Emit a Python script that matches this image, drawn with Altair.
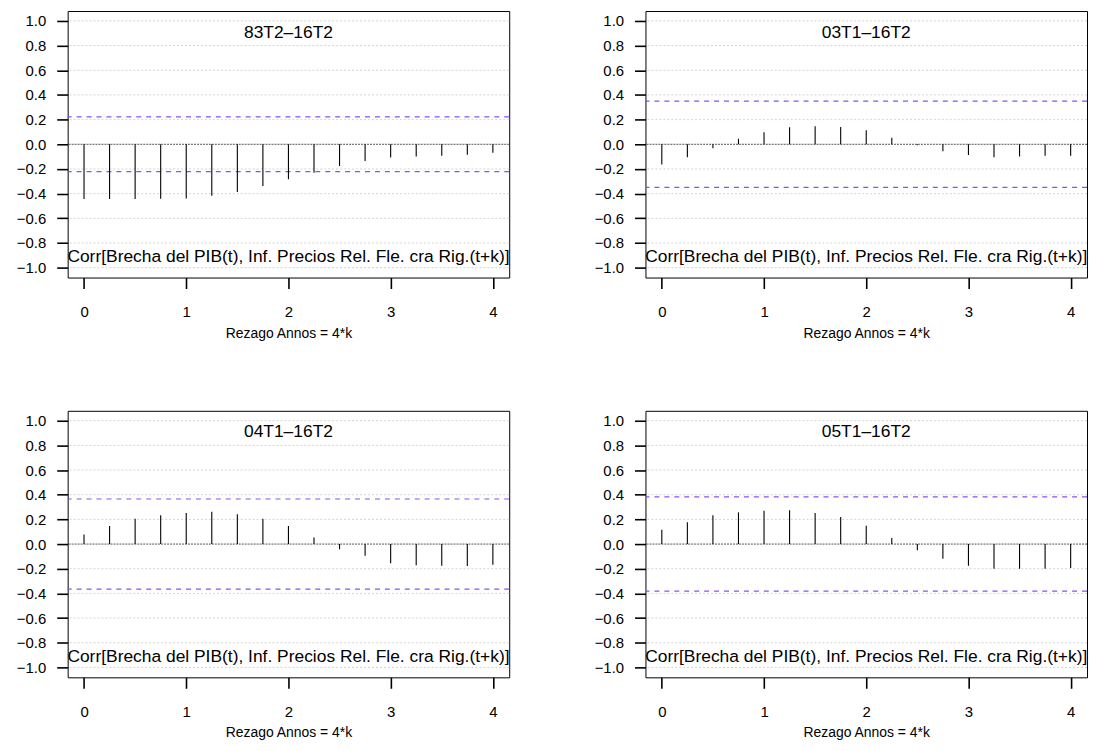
import altair as alt
import pandas as pd

# ---- data ----
lags = [0, 0.25, 0.5, 0.75, 1, 1.25, 1.5, 1.75, 2, 2.25, 2.5, 2.75, 3, 3.25, 3.5, 3.75, 4]
acf_83 = [-0.444, -0.444, -0.444, -0.442, -0.440, -0.418, -0.386, -0.339, -0.283,
          -0.230, -0.177, -0.135, -0.108, -0.098, -0.093, -0.085, -0.069]
acf_03 = [-0.164, -0.106, -0.032, 0.045, 0.098, 0.138, 0.146, 0.140, 0.114,
          0.053, -0.008, -0.056, -0.087, -0.106, -0.100, -0.093, -0.093]
acf_04 = [0.077, 0.146, 0.206, 0.233, 0.251, 0.262, 0.241, 0.206, 0.146,
          0.053, -0.042, -0.095, -0.156, -0.172, -0.175, -0.177, -0.167]
acf_05 = [0.116, 0.177, 0.233, 0.257, 0.270, 0.275, 0.251, 0.220, 0.148,
          0.050, -0.050, -0.119, -0.175, -0.201, -0.201, -0.201, -0.193]
bands = [0.222, 0.350, 0.365, 0.382]
panel_titles = ["83T2\u201316T2", "03T1\u201316T2", "04T1\u201316T2", "05T1\u201316T2"]
bottom_label = "Corr[Brecha del PIB(t), Inf. Precios Rel. Fle. cra Rig.(t+k)]"
x_title = "Rezago Annos = 4*k"
y_ticks = [-1.0, -0.8, -0.6, -0.4, -0.2, 0.0, 0.2, 0.4, 0.6, 0.8, 1.0]
x_ticks = [0, 1, 2, 3, 4]
grid_vals = [-1.0, -0.8, -0.6, -0.4, -0.2, 0.2, 0.4, 0.6, 0.8, 1.0]

W, H = 444, 268
TICK = 11
FONT = "Liberation Sans"
xs = alt.Scale(domain=[-0.16, 4.16], nice=False, zero=False)
ys = alt.Scale(domain=[-1.08, 1.08], nice=False, zero=False)

YAXIS = alt.Axis(values=y_ticks, format=".1f", title=None, ticks=True,
                 tickSize=TICK, tickColor="black", tickWidth=1.6,
                 domain=False, grid=False, labelPadding=11,
                 minExtent=52, maxExtent=52)
XAXIS = alt.Axis(values=x_ticks, format="d", title=x_title, ticks=True,
                 tickSize=TICK, tickColor="black", tickWidth=1.6,
                 domain=False, grid=False, labelPadding=16, titlePadding=7)


def Yc():
    return alt.Y("corr:Q", scale=ys, axis=YAXIS)


def Xc():
    return alt.X("lag:Q", scale=xs, axis=XAXIS)


def panel(vals, band, title):
    df = pd.DataFrame({"lag": lags, "corr": vals, "zero": [0.0] * len(lags)})
    grid = alt.Chart(pd.DataFrame({"corr": grid_vals})).mark_rule(
        color="#d4d4d4", strokeDash=[2, 2], strokeWidth=1
    ).encode(y=Yc())
    zero = alt.Chart(pd.DataFrame({"corr": [0.0]})).mark_rule(
        color="#555555", strokeDash=[2, 1], strokeWidth=1
    ).encode(y=Yc())
    bnd = alt.Chart(pd.DataFrame({"corr": [band, -band]})).mark_rule(
        color="#8652f2", strokeDash=[5, 5], strokeWidth=1.2
    ).encode(y=Yc())
    bars = alt.Chart(df).mark_rule(color="black", strokeWidth=1.1).encode(
        x=Xc(), y=Yc(), y2=alt.Y2("zero:Q"),
    )
    ttl = alt.Chart(pd.DataFrame({"corr": [0.905], "t": [title]})).mark_text(
        font=FONT, fontSize=17.5, color="black", baseline="middle", align="center"
    ).encode(x=alt.value(W / 2), y=Yc(), text="t:N")
    bot = alt.Chart(pd.DataFrame({"corr": [-0.913], "t": [bottom_label]})).mark_text(
        font=FONT, fontSize=17.5, color="black", baseline="middle", align="center"
    ).encode(x=alt.value(W / 2), y=Yc(), text="t:N")
    return alt.layer(grid, zero, bnd, bars, ttl, bot).properties(width=W, height=H)


p1 = panel(acf_83, bands[0], panel_titles[0])
p2 = panel(acf_03, bands[1], panel_titles[1])
p3 = panel(acf_04, bands[2], panel_titles[2])
p4 = panel(acf_05, bands[3], panel_titles[3])

chart = alt.vconcat(
    alt.hconcat(p1, p2, spacing=82),
    alt.hconcat(p3, p4, spacing=82),
    spacing=69,
).properties(
    padding={"left": 7, "top": 0, "right": 0, "bottom": 0}
).configure_view(
    stroke="black", strokeWidth=1
).configure_axis(
    labelColor="black", labelFont=FONT, labelFontSize=15,
    labelFlush=False, labelOverlap=False,
    titleFont=FONT, titleFontSize=14, titleFontWeight="normal", titleColor="black",
)

chart.save("out.html", embed_options={"renderer": "svg", "actions": False})
